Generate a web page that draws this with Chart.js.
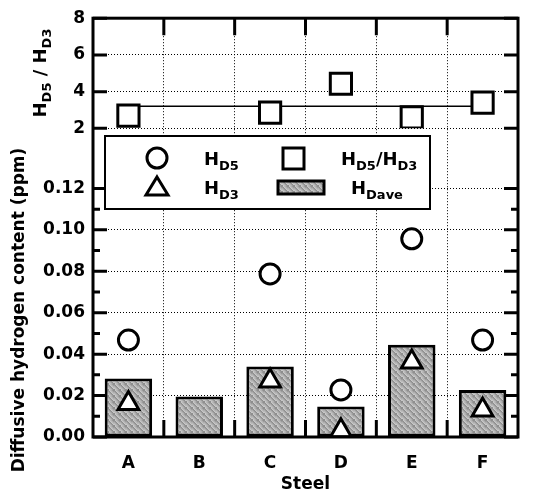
<!DOCTYPE html>
<html>
<head>
<meta charset="utf-8">
<script src="https://cdn.jsdelivr.net/npm/chart.js@4.4.0/dist/chart.umd.min.js"></script>
<style>
html, body { margin: 0; padding: 0; background: #fff; }
</style>
</head>
<body>
<canvas id="myChart" width="536" height="495"></canvas>
<script>
// data
const steels = ['A', 'B', 'C', 'D', 'E', 'F'];
const hDave = [0.0283, 0.0195, 0.034, 0.0147, 0.0445, 0.0227];
const hD5 = [0.0468, null, 0.0787, 0.0227, 0.0957, 0.0468];
const hD3 = [0.0162, null, 0.027, 0.003, 0.0362, 0.013];
const ratio = [2.69, null, 2.86, 4.43, 2.6, 3.4];
const ratioMean = [3.2, 3.2, 3.2, 3.2, 3.2, 3.2];

const hTicks = [0, 0.02, 0.04, 0.06, 0.08, 0.10, 0.12];
const hMinorTicks = [0.01, 0.03, 0.05, 0.07, 0.09, 0.11];
const ratioTicks = [2, 4, 6, 8];

const FONT = '"DejaVu Sans", Arial, sans-serif';

// stippled grey fill for the bars
function makeStipple() {
    const c = document.createElement('canvas');
    c.width = 6; c.height = 6;
    const g = c.getContext('2d');
    const shades = ['#8e8e8e', '#b0b0b0', '#c8c8c8', '#9c9c9c', '#bababa'];
    for (let i = 0; i < 6; i++) {
        for (let j = 0; j < 6; j++) {
            g.fillStyle = shades[(i * 7 + j * 3) % 5];
            g.fillRect(i, j, 1, 1);
        }
    }
    return g.createPattern(c, 'repeat');
}
const stipple = makeStipple();

// draws "H" with a subscript, returns end x
function drawH(ctx, x, y, sub, size) {
    ctx.font = 'bold ' + size + 'px ' + FONT;
    ctx.textBaseline = 'alphabetic';
    ctx.textAlign = 'left';
    ctx.fillText('H', x, y);
    x += ctx.measureText('H').width;
    ctx.font = 'bold ' + Math.round(size * 0.7) + 'px ' + FONT;
    ctx.fillText(sub, x, y + size * 0.3);
    return x + ctx.measureText(sub).width;
}

const framePlugin = {
    id: 'frame',
    afterDraw(chart) {
        const ctx = chart.ctx;
        const a = chart.chartArea;
        const x = chart.scales.x;
        const yH = chart.scales.yH;
        const yR = chart.scales.yR;
        ctx.save();
        ctx.strokeStyle = '#000';
        ctx.fillStyle = '#000';
        ctx.lineWidth = 3;
        ctx.lineCap = 'butt';

        // inward ticks
        ctx.beginPath();
        hTicks.forEach(v => {
            const py = yH.getPixelForValue(v);
            ctx.moveTo(a.left, py); ctx.lineTo(a.left + 14, py);
            ctx.moveTo(a.right, py); ctx.lineTo(a.right - 14, py);
        });
        hMinorTicks.forEach(v => {
            const py = yH.getPixelForValue(v);
            ctx.moveTo(a.left, py); ctx.lineTo(a.left + 7, py);
            ctx.moveTo(a.right, py); ctx.lineTo(a.right - 7, py);
        });
        ratioTicks.forEach(v => {
            const py = yR.getPixelForValue(v);
            ctx.moveTo(a.left, py); ctx.lineTo(a.left + 14, py);
            ctx.moveTo(a.right, py); ctx.lineTo(a.right - 14, py);
        });
        for (let i = 1; i < steels.length; i++) {
            const px = (x.getPixelForValue(i - 1) + x.getPixelForValue(i)) / 2;
            ctx.moveTo(px, a.bottom); ctx.lineTo(px, a.bottom - 17);
            ctx.moveTo(px, a.top); ctx.lineTo(px, a.top + 17);
        }
        ctx.stroke();
        ctx.strokeRect(a.left, a.top, a.right - a.left, a.bottom - a.top);

        // legend
        const lx = 105, ly = 136, lw = 325, lh = 73;
        ctx.fillStyle = '#fff';
        ctx.fillRect(lx, ly, lw, lh);
        ctx.lineWidth = 2;
        ctx.strokeRect(lx, ly, lw, lh);
        ctx.lineWidth = 3;
        ctx.fillStyle = '#fff';
        ctx.beginPath(); ctx.arc(157, 158, 10, 0, Math.PI * 2); ctx.fill(); ctx.stroke();
        ctx.beginPath(); ctx.rect(283, 148, 21, 21); ctx.fill(); ctx.stroke();
        ctx.beginPath();
        ctx.moveTo(157, 177); ctx.lineTo(168, 195); ctx.lineTo(146, 195); ctx.closePath();
        ctx.fill(); ctx.stroke();
        ctx.fillStyle = stipple;
        ctx.beginPath(); ctx.rect(278, 181, 46, 13); ctx.fill(); ctx.stroke();
        ctx.fillStyle = '#000';
        drawH(ctx, 204, 165, 'D5', 18);
        let ex = drawH(ctx, 341, 165, 'D5', 18);
        ctx.font = 'bold 18px ' + FONT;
        ctx.fillText('/', ex, 165);
        drawH(ctx, ex + ctx.measureText('/').width, 165, 'D3', 18);
        drawH(ctx, 204, 194, 'D3', 18);
        drawH(ctx, 351, 194, 'Dave', 18);

        // axis titles
        ctx.font = 'bold 17px ' + FONT;
        ctx.textAlign = 'center';
        ctx.textBaseline = 'middle';
        ctx.fillText('Steel', (a.left + a.right) / 2, 485);
        ctx.save();
        ctx.translate(20, 310);
        ctx.rotate(-Math.PI / 2);
        ctx.fillText('Diffusive hydrogen content (ppm)', 0, 0);
        ctx.restore();

        ctx.save();
        ctx.translate(46, 73);
        ctx.rotate(-Math.PI / 2);
        ctx.font = 'bold 18px ' + FONT;
        let w = ctx.measureText('H / H').width;
        ctx.font = 'bold 13px ' + FONT;
        w += 2 * ctx.measureText('D5').width;
        let tx = -w / 2;
        tx = drawH(ctx, tx, 0, 'D5', 18);
        ctx.font = 'bold 18px ' + FONT;
        ctx.fillText(' / ', tx, 0);
        tx += ctx.measureText(' / ').width;
        drawH(ctx, tx, 0, 'D3', 18);
        ctx.restore();

        ctx.restore();
    }
};

const gridStyle = {
    color: '#000',
    lineWidth: 1,
    drawTicks: false
};

const tickFont = { family: FONT, size: 17, weight: 'bold' };

const myChart = new Chart(document.getElementById('myChart'), {
    type: 'bar',
    data: {
        labels: steels,
        datasets: [
            {
                label: 'HDave',
                data: hDave,
                yAxisID: 'yH',
                backgroundColor: stipple,
                borderColor: '#000',
                borderWidth: 3,
                borderSkipped: false,
                categoryPercentage: 1,
                barPercentage: 0.67,
                order: 3
            },
            {
                type: 'line',
                label: 'HD5',
                data: hD5,
                yAxisID: 'yH',
                showLine: false,
                pointStyle: 'circle',
                pointRadius: 10,
                pointBorderWidth: 3,
                pointBorderColor: '#000',
                pointBackgroundColor: '#fff',
                order: 1
            },
            {
                type: 'line',
                label: 'HD3',
                data: hD3,
                yAxisID: 'yH',
                showLine: false,
                pointStyle: 'triangle',
                pointRadius: 12,
                pointBorderWidth: 3,
                pointBorderColor: '#000',
                pointBackgroundColor: '#fff',
                order: 1
            },
            {
                type: 'line',
                label: 'mean',
                data: ratioMean,
                yAxisID: 'yR',
                borderColor: '#000',
                borderWidth: 1.5,
                pointRadius: 0,
                order: 2
            },
            {
                type: 'line',
                label: 'HD5/HD3',
                data: ratio,
                yAxisID: 'yR',
                showLine: false,
                pointStyle: 'rect',
                pointRadius: 15,
                pointBorderWidth: 3,
                pointBorderColor: '#000',
                pointBackgroundColor: '#fff',
                order: 1
            }
        ]
    },
    options: {
        responsive: false,
        devicePixelRatio: 1,
        animation: false,
        layout: { padding: { top: 15, right: 14, left: 0, bottom: 0 } },
        plugins: {
            legend: { display: false },
            tooltip: { enabled: false }
        },
        scales: {
            x: {
                offset: true,
                grid: { ...gridStyle, offset: true },
                border: { display: false, dash: [1, 2] },
                ticks: { color: '#000', font: tickFont, padding: 16 },
                afterFit: s => { s.height = 58; }
            },
            yH: {
                type: 'linear',
                position: 'left',
                stack: 'v',
                stackWeight: 311,
                min: 0,
                max: 0.149,
                grid: gridStyle,
                border: { display: false, dash: [1, 2] },
                ticks: {
                    color: '#000',
                    font: tickFont,
                    padding: 8,
                    autoSkip: false,
                    callback: v => v.toFixed(2)
                },
                afterBuildTicks: s => { s.ticks = hTicks.map(v => ({ value: v })); },
                afterFit: s => { s.width = 93; }
            },
            yR: {
                type: 'linear',
                position: 'left',
                stack: 'v',
                stackWeight: 111,
                min: 2,
                max: 8,
                grid: gridStyle,
                border: { display: false, dash: [1, 2] },
                ticks: {
                    color: '#000',
                    font: tickFont,
                    padding: 8,
                    autoSkip: false,
                    callback: v => String(v)
                },
                afterBuildTicks: s => { s.ticks = ratioTicks.map(v => ({ value: v })); },
                afterFit: s => { s.width = 93; }
            }
        }
    },
    plugins: [framePlugin]
});
</script>
</body>
</html>
